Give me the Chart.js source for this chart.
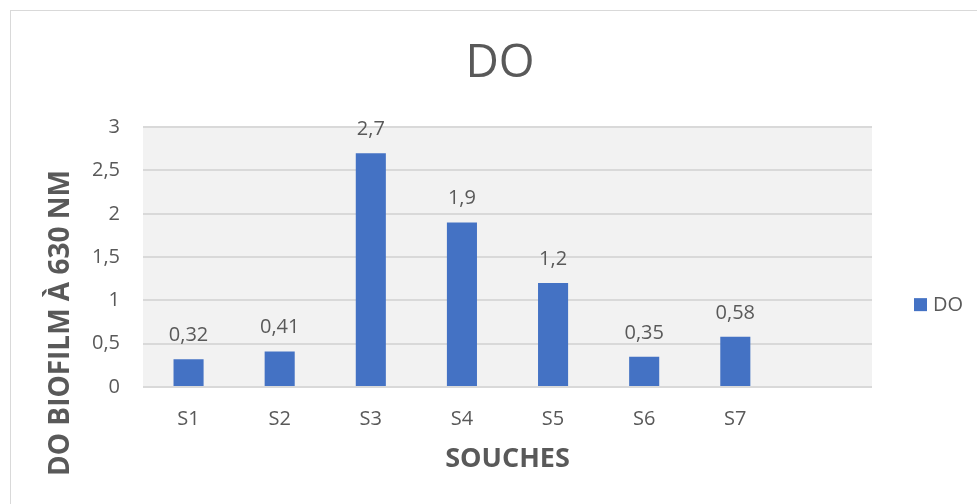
<!DOCTYPE html>
<html>
<head>
<meta charset="utf-8">
<script src="https://cdn.jsdelivr.net/npm/chart.js@4"></script>
<style>
  html, body { margin: 0; padding: 0; background: #fff; overflow: hidden; }
  #frame { position: absolute; left: 10px; top: 10px; width: 1100px; height: 600px; border: 1.5px solid #d9d9d9; }
  #chart { position: absolute; left: 0; top: 0; }
</style>
</head>
<body>
<div id="frame"></div>
<canvas id="chart" width="977" height="504"></canvas>
<script>
const souches = ['S1', 'S2', 'S3', 'S4', 'S5', 'S6', 'S7', ''];
const doValues = [0.32, 0.41, 2.7, 1.9, 1.2, 0.35, 0.58, null];
const yTicks = [0, 0.5, 1, 1.5, 2, 2.5, 3];

const textColor = '#595959';
const barColor = '#4472c4';
const fontName = '"Open Sans", "Noto Sans", sans-serif';

const frLabel = (v) => String(v).replace('.', ',');

// grey background behind the plot
const plotBackground = {
  id: 'plotBackground',
  beforeDraw: (chart) => {
    const {ctx, chartArea: a} = chart;
    ctx.save();
    ctx.fillStyle = '#f2f2f2';
    ctx.fillRect(a.left, a.top, a.right - a.left, a.bottom - a.top);
    ctx.restore();
  }
};

// values above the bars
const barValues = {
  id: 'barValues',
  afterDatasetsDraw: (chart) => {
    const {ctx} = chart;
    const meta = chart.getDatasetMeta(0);
    ctx.save();
    ctx.font = '20px ' + fontName;
    ctx.fillStyle = textColor;
    ctx.textAlign = 'center';
    ctx.textBaseline = 'alphabetic';
    meta.data.forEach((bar, i) => {
      const v = chart.data.datasets[0].data[i];
      if (v === null) return;
      ctx.fillText(frLabel(v), bar.x, bar.y - 18);
    });
    ctx.restore();
  }
};

// y title sits lower than the plot centre, as in the Excel original
const yTitle = {
  id: 'yTitle',
  afterDraw: (chart) => {
    const {ctx, chartArea: a} = chart;
    ctx.save();
    ctx.translate(61, a.bottom - 64);
    ctx.rotate(-Math.PI / 2);
    ctx.font = 'bold 28px ' + fontName;
    ctx.fillStyle = textColor;
    ctx.textAlign = 'center';
    ctx.textBaseline = 'middle';
    ctx.fillText('DO BIOFILM À 630 NM', 0, 0);
    ctx.restore();
  }
};

// legend on the right, like the Excel one
const sideLegend = {
  id: 'sideLegend',
  afterDraw: (chart) => {
    const {ctx, chartArea: a} = chart;
    const ds = chart.data.datasets[0];
    const x = a.right + 42;
    const y = a.top + (a.bottom - a.top) * 0.683;
    ctx.save();
    ctx.fillStyle = ds.backgroundColor;
    ctx.fillRect(x, y - 6.5, 13, 13);
    ctx.font = '20px ' + fontName;
    ctx.fillStyle = textColor;
    ctx.textBaseline = 'middle';
    ctx.fillText(ds.label, x + 19, y + 1);
    ctx.restore();
  }
};

new Chart(document.getElementById('chart'), {
  type: 'bar',
  data: {
    labels: souches,
    datasets: [{
      label: 'DO',
      data: doValues,
      backgroundColor: barColor,
      categoryPercentage: 1,
      barPercentage: 0.33
    }]
  },
  plugins: [plotBackground, barValues, yTitle, sideLegend],
  options: {
    responsive: false,
    animation: false,
    layout: {
      padding: {left: 23, right: 0, top: 0, bottom: 28}
    },
    plugins: {
      legend: {display: false},
      tooltip: {enabled: false},
      title: {
        display: true,
        text: 'DO',
        color: textColor,
        font: {family: fontName, size: 46, weight: 'normal'},
        padding: {top: 36, bottom: 36}
      }
    },
    scales: {
      x: {
        grid: {display: false, drawTicks: false},
        border: {display: false},
        ticks: {
          color: textColor,
          font: {family: fontName, size: 20},
          padding: 20,
          maxRotation: 0
        },
        title: {
          display: true,
          text: 'SOUCHES',
          color: textColor,
          font: {family: fontName, size: 27, weight: 'bold'},
          padding: {top: 0, bottom: 0}
        },
        afterFit: (axis) => { axis.height = 89; }
      },
      y: {
        min: 0,
        max: 3,
        afterBuildTicks: (axis) => {
          axis.ticks = yTicks.map(v => ({value: v}));
        },
        grid: {color: '#d9d9d9', lineWidth: 2, drawTicks: false},
        border: {display: false},
        ticks: {
          color: textColor,
          font: {family: fontName, size: 20},
          padding: 23,
          callback: (value) => frLabel(value)
        },
        afterFit: (axis) => { axis.width = 120; }
      },
      // empty axis on the right keeps room for the legend
      side: {
        position: 'right',
        display: true,
        grid: {display: false, drawTicks: false},
        border: {display: false},
        ticks: {display: false},
        afterFit: (axis) => { axis.width = 105; }
      }
    }
  }
});
</script>
</body>
</html>
